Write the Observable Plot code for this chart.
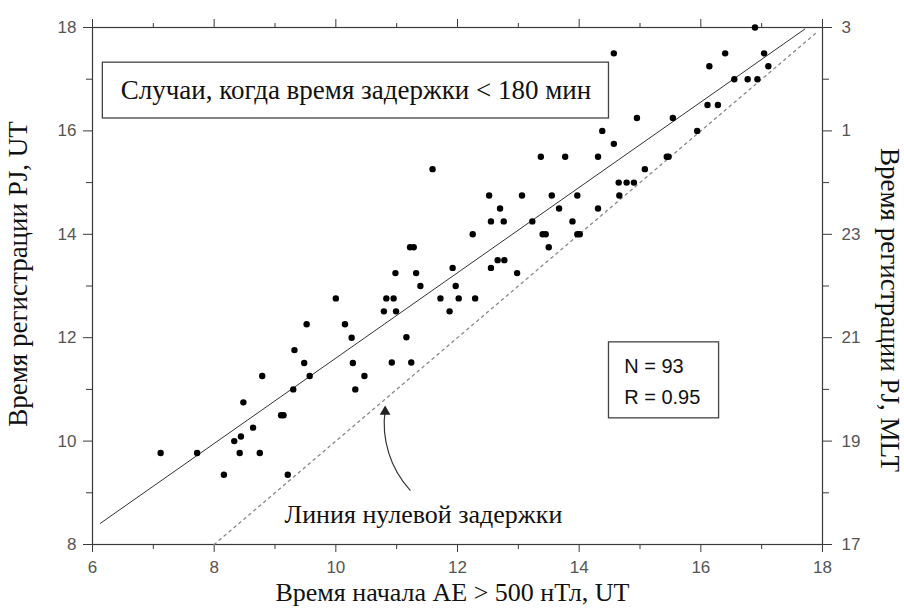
<!DOCTYPE html>
<html><head><meta charset="utf-8">
<script src="https://cdn.jsdelivr.net/npm/d3@7"></script>
<script src="https://cdn.jsdelivr.net/npm/@observablehq/plot@0.6"></script>
<style>body{margin:0;background:#fff}</style>
</head><body><div id="chart"></div>
<script>
// Onset time of AE > 500 nT (UT, hours)
const onsetUT = [
  14.57,14.95,14.38,14.57,13.37,13.77,14.31,15.44,11.59,15.08,
  14.65,14.78,14.90,14.66,12.52,13.06,13.55,13.97,12.70,13.67,
  14.31,12.55,12.76,13.23,13.89,12.25,13.40,13.45,13.97,14.01,
  11.22,11.28,13.50,12.66,12.77,16.89,16.40,17.04,16.14,17.11,
  16.55,16.77,16.93,16.11,16.28,15.54,15.94,15.47,10.00,9.52,
  10.15,10.26,9.32,9.48,10.28,9.57,8.79,10.47,9.30,10.32,
  8.48,9.10,9.14,8.64,8.33,8.44,7.12,7.72,8.42,8.75,
  8.16,9.21,10.98,11.32,11.92,12.55,12.98,11.39,11.97,10.83,
  10.95,11.72,12.02,12.29,10.79,10.99,11.87,11.16,10.92,11.24
];
// PJ registration time (UT, hours)
const pjUT = [
  17.50,16.25,16.00,15.75,15.50,15.50,15.50,15.50,15.26,15.26,
  15.00,15.00,15.00,14.75,14.75,14.75,14.75,14.75,14.50,14.50,
  14.50,14.25,14.25,14.25,14.25,14.00,14.00,14.00,14.00,14.00,
  13.75,13.75,13.75,13.50,13.50,18.00,17.50,17.50,17.25,17.25,
  17.00,17.00,17.00,16.50,16.50,16.25,16.00,15.50,12.76,12.26,
  12.26,12.00,11.76,11.51,11.51,11.26,11.26,11.26,11.00,11.00,
  10.75,10.50,10.50,10.26,10.00,10.09,9.77,9.77,9.77,9.77,
  9.35,9.35,13.25,13.25,13.35,13.35,13.25,13.00,13.00,12.76,
  12.76,12.76,12.76,12.76,12.51,12.51,12.51,12.01,11.52,11.52
];
// regression line end points (x, y)
const regX = [6.13, 17.71];
const regY = [8.41, 17.97];
// zero-delay line end points
const zeroX = [8.0, 17.9];
const zeroY = [8.0, 17.9];

const xMajor = [6, 8, 10, 12, 14, 16, 18];
const xMinor = [7, 9, 11, 13, 15, 17];
const yMajor = [8, 10, 12, 14, 16, 18];
const yMinor = [9, 11, 13, 15, 17];
const mltLabels = ["17", "19", "21", "23", "1", "3"];

const titleText = "Случаи, когда время задержки < 180 мин";
const statsText = ["N = 93", "R = 0.95"];
const zeroLabel = "Линия нулевой задержки";
const xTitle = "Время начала AE > 500 нТл, UT";
const yTitle = "Время регистрации PJ, UT";
const y2Title = "Время регистрации PJ, MLT";

// annotation anchors (data coordinates)
const titleBox = {x1: 6.17, x2: 14.49, y1: 16.24, y2: 17.32, tx: 10.33, ty: 16.79};
const statsBox = {x1: 14.49, x2: 16.30, y1: 10.44, y2: 11.91, tx: 14.74, ty: [11.45, 10.85]};
const zeroLabelPos = {x: 11.44, y: 8.58};
const arrowPos = {x1: 11.22, y1: 9.05, x2: 10.81, y2: 10.60, hx: 10.81, hy: 10.57};

const pts = onsetUT.map((x, i) => ({x, y: pjUT[i]}));
const reg = regX.map((x, i) => ({x, y: regY[i]}));
const zero = zeroX.map((x, i) => ({x, y: zeroY[i]}));

const serif = "'Liberation Serif', 'Times New Roman', serif";
const sans = "'Liberation Sans', Arial, sans-serif";
const axisCol = "#3a3a3a";
const tickCol = "#555";

const chart = Plot.plot({
  width: 904, height: 615,
  marginLeft: 92, marginRight: 82, marginTop: 27, marginBottom: 71,
  x: {domain: [6, 18]},
  y: {domain: [8, 18]},
  style: {fontFamily: sans, fontSize: "17px", background: "#fff", color: tickCol},
  marks: [
    Plot.axisX({anchor: "bottom", ticks: xMajor, tickSize: 8, tickPadding: 8, stroke: axisCol, fill: tickCol, label: null, fontSize: 17}),
    Plot.axisX({anchor: "bottom", ticks: xMinor, tickSize: 5, tickFormat: () => "", stroke: axisCol, label: null}),
    Plot.axisX({anchor: "top", ticks: xMajor, tickSize: 9, tickFormat: () => "", stroke: axisCol, label: null}),
    Plot.axisX({anchor: "top", ticks: xMinor, tickSize: 5, tickFormat: () => "", stroke: axisCol, label: null}),
    Plot.axisY({anchor: "left", ticks: yMajor, tickSize: 9, tickPadding: 7, stroke: axisCol, fill: tickCol, label: null, fontSize: 17}),
    Plot.axisY({anchor: "left", ticks: yMinor, tickSize: 6, tickFormat: () => "", stroke: axisCol, label: null}),
    Plot.axisY({anchor: "right", ticks: yMajor, tickSize: 9, tickPadding: 10, stroke: axisCol, fill: tickCol, label: null, fontSize: 17,
      tickFormat: d => mltLabels[yMajor.indexOf(d)]}),
    Plot.axisY({anchor: "right", ticks: yMinor, tickSize: 6, tickFormat: () => "", stroke: axisCol, label: null}),
    Plot.frame({stroke: axisCol, strokeWidth: 1.2}),
    // zero delay line
    Plot.line(zero, {x: "x", y: "y", stroke: "#888", strokeWidth: 1.3, strokeDasharray: "2.5,4"}),
    // regression line
    Plot.line(reg, {x: "x", y: "y", stroke: "#333", strokeWidth: 1}),
    // data points
    Plot.dot(pts, {x: "x", y: "y", r: 3.2, fill: "#000", stroke: "none"}),
    // title box
    Plot.rect([titleBox], {x1: "x1", x2: "x2", y1: "y1", y2: "y2", fill: "#fff", stroke: "#444", strokeWidth: 1.3}),
    Plot.text([titleText], {x: titleBox.tx, y: titleBox.ty, text: d => d, fontFamily: serif, fontSize: 27, fill: "#111"}),
    // stats box
    Plot.rect([statsBox], {x1: "x1", x2: "x2", y1: "y1", y2: "y2", fill: "#fff", stroke: "#444", strokeWidth: 1.3}),
    Plot.text(statsText, {x: statsBox.tx, y: (d, i) => statsBox.ty[i], text: d => d, textAnchor: "start", fontFamily: sans, fontSize: 20, fill: "#111"}),
    // zero-delay label and arrow
    Plot.text([zeroLabel], {x: zeroLabelPos.x, y: zeroLabelPos.y, text: d => d, fontFamily: serif, fontSize: 26, fill: "#111"}),
    Plot.arrow([arrowPos], {x1: "x1", y1: "y1", x2: "x2", y2: "y2", bend: 25, headLength: 0, stroke: "#333", strokeWidth: 1.2}),
    Plot.dot([arrowPos], {x: "hx", y: "hy", symbol: "triangle", r: 4, fill: "#222", stroke: "none"}),
    // axis titles
    Plot.text([xTitle], {frameAnchor: "bottom", dx: -5, dy: 56, text: d => d, fontFamily: serif, fontSize: 26, fill: "#111"}),
    Plot.text([yTitle], {frameAnchor: "left", dx: -74, dy: -12, rotate: -90, textAnchor: "middle", text: d => d, fontFamily: serif, fontSize: 27, fill: "#111"}),
    Plot.text([y2Title], {frameAnchor: "right", dx: 67, dy: 24, rotate: 90, textAnchor: "middle", text: d => d, fontFamily: serif, fontSize: 27, fill: "#111"})
  ]
});
document.getElementById("chart").append(chart);
</script>
</body></html>
